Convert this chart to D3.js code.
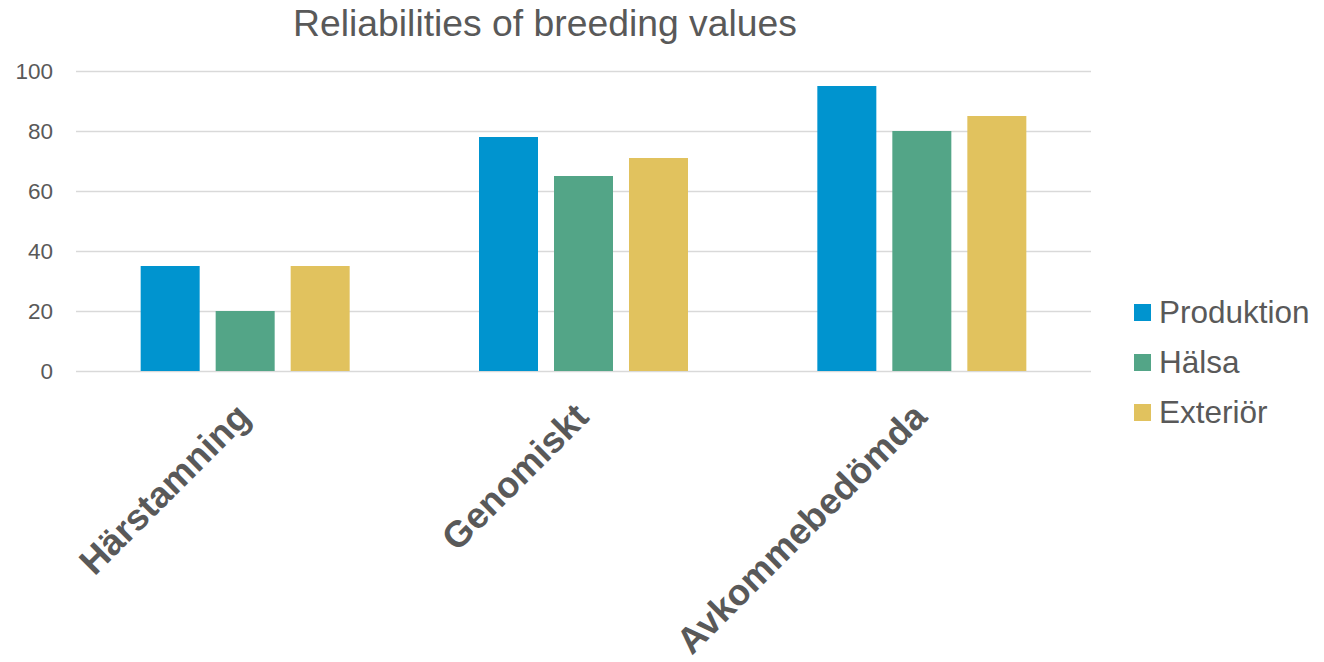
<!DOCTYPE html>
<html>
<head>
<meta charset="utf-8">
<script src="https://cdn.jsdelivr.net/npm/d3@7"></script>
<style>
  html, body { margin: 0; padding: 0; background: #fff; }
  svg { display: block; font-family: Arial, "Liberation Sans", sans-serif; }
</style>
</head>
<body>
<svg id="chart" width="1324" height="662"></svg>
<script>
const categories = ["Härstamning", "Genomiskt", "Avkommebedömda"];
const seriesNames = ["Produktion", "Hälsa", "Exteriör"];
const produktion = [35, 78, 95];
const halsa = [20, 65, 80];
const exterior = [35, 71, 85];
const yTicks = [0, 20, 40, 60, 80, 100];
const colors = ["#0094CF", "#53A587", "#E1C25E"];

const seriesValues = [produktion, halsa, exterior];
const data = categories.map((c, i) => ({
  cat: c,
  vals: seriesNames.map((s, j) => ({ key: s, value: seriesValues[j][i] }))
}));

const svg = d3.select("#chart");
const mLeft = 76, mRight = 1091, mTop = 71, mBottom = 371;

const x0 = d3.scaleBand().domain(categories).range([mLeft, mRight]).padding(0);
const bw = x0.bandwidth();
const groupW = 209;
const x1 = d3.scaleBand().domain(seriesNames)
  .range([(bw - groupW) / 2, (bw + groupW) / 2]).paddingInner(16 / 75).paddingOuter(0);
const y = d3.scaleLinear().domain([0, 100]).range([mBottom, mTop]);
const color = d3.scaleOrdinal().domain(seriesNames).range(colors);

// gridlines
svg.append("g").attr("transform", `translate(${mLeft},0)`)
  .call(d3.axisLeft(y).tickValues(yTicks).tickSize(-(mRight - mLeft)).tickFormat(""))
  .call(g => g.select(".domain").remove())
  .call(g => g.selectAll("line").attr("stroke", "#d9d9d9").attr("stroke-width", 1.5));

// y tick labels
svg.append("g").attr("transform", `translate(53,0)`)
  .call(d3.axisLeft(y).tickValues(yTicks).tickSize(0).tickPadding(0))
  .call(g => g.select(".domain").remove())
  .call(g => g.selectAll("text").attr("fill", "#595959").attr("font-size", "22.5px")
    .attr("font-family", "Arial, 'Liberation Sans', sans-serif"));

// bars
const groups = svg.append("g").selectAll("g").data(data).join("g")
  .attr("transform", d => `translate(${x0(d.cat)},0)`);
groups.selectAll("rect").data(d => d.vals).join("rect")
  .attr("x", d => x1(d.key))
  .attr("width", x1.bandwidth())
  .attr("y", d => y(d.value))
  .attr("height", d => y(0) - y(d.value))
  .attr("fill", d => color(d.key));

// x labels
svg.append("g").selectAll("text").data(categories).join("text")
  .attr("transform", d => `translate(${x0(d) + bw / 2 + 7},${mBottom + 48}) rotate(-45)`)
  .attr("text-anchor", "end")
  .attr("fill", "#595959")
  .attr("font-weight", "bold")
  .attr("font-size", "36.5px")
  .text(d => d);

// title
svg.append("text")
  .attr("x", 545).attr("y", 36)
  .attr("text-anchor", "middle")
  .attr("fill", "#595959")
  .attr("font-size", "37.3px")
  .text("Reliabilities of breeding values");

// legend
const legend = svg.append("g").selectAll("g").data(seriesNames).join("g")
  .attr("transform", (d, i) => `translate(1134,${312 + i * 50})`);
legend.append("rect").attr("x", 0).attr("y", -8).attr("width", 17).attr("height", 17)
  .attr("fill", d => color(d));
legend.append("text").attr("x", 25).attr("y", 11)
  .attr("fill", "#595959").attr("font-size", "31.5px").text(d => d);
</script>
</body>
</html>
